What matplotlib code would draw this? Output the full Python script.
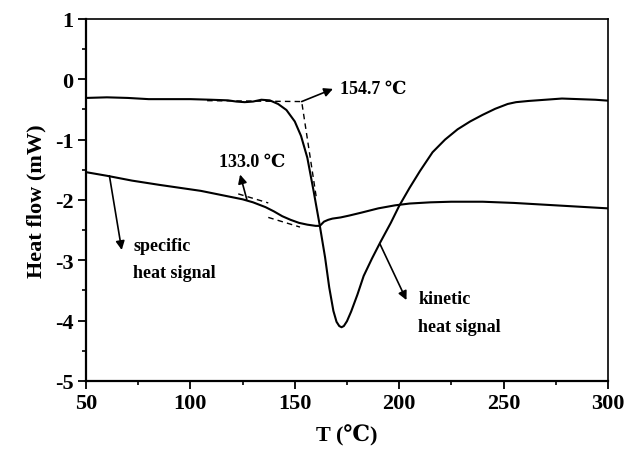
import matplotlib
matplotlib.use("Agg")
import matplotlib.pyplot as plt

plt.rcParams["font.family"] = ["Liberation Serif", "DejaVu Serif"]
plt.rcParams["font.weight"] = "bold"
plt.rcParams["axes.unicode_minus"] = False

# kinetic heat signal (upper curve)
t_kin = [50, 60, 70, 80, 90, 100, 110, 118, 122, 126, 130, 134, 138, 142, 146,
         150, 153, 156, 159, 162, 164.5, 166.5, 168.5, 170, 171.3, 172.4, 173.5,
         175, 177, 180, 183, 187, 191, 196, 200, 205, 210, 216, 222, 228, 234,
         240, 246, 252, 256, 262, 270, 278, 286, 294, 300]
hf_kin = [-0.31, -0.30, -0.31, -0.33, -0.33, -0.33, -0.34, -0.35, -0.37, -0.38,
          -0.37, -0.34, -0.35, -0.41, -0.51, -0.70, -0.94, -1.30, -1.85, -2.43,
          -2.95, -3.45, -3.84, -4.02, -4.09, -4.11, -4.09, -4.01, -3.85, -3.57,
          -3.26, -2.97, -2.70, -2.38, -2.10, -1.80, -1.52, -1.21, -1.00, -0.83,
          -0.70, -0.59, -0.49, -0.41, -0.38, -0.36, -0.34, -0.32, -0.33, -0.34,
          -0.355]

# specific heat signal (lower curve)
t_spec = [50, 60, 72, 85, 95, 105, 115, 125, 130, 136, 140, 144, 148, 152, 156,
          160, 162, 164, 166, 168, 172, 176, 182, 190, 198, 205, 215, 225, 240,
          255, 270, 285, 300]
hf_spec = [-1.54, -1.60, -1.68, -1.75, -1.80, -1.85, -1.92, -1.99, -2.04, -2.12,
           -2.19, -2.27, -2.33, -2.38, -2.41, -2.43, -2.43, -2.36, -2.33, -2.31,
           -2.29, -2.26, -2.21, -2.14, -2.09, -2.06, -2.04, -2.03, -2.03, -2.05,
           -2.08, -2.11, -2.14]

# onset tangent construction lines
onset_kin_t = [108, 153.3, 160.4]
onset_kin_v = [-0.355, -0.37, -1.98]
onset_spec1_t = [122.9, 137.3]
onset_spec1_v = [-1.90, -2.05]
onset_spec2_t = [137.3, 152.5]
onset_spec2_v = [-2.29, -2.45]

fig = plt.figure(figsize=(6.28, 4.52), dpi=100)
ax = fig.add_axes([0.137, 0.155, 0.831, 0.801])

ax.plot(t_kin, hf_kin, color="black", lw=1.5)
ax.plot(t_spec, hf_spec, color="black", lw=1.5)
ax.plot(onset_kin_t, onset_kin_v, color="black", lw=1.0, ls=(0, (4, 3)))
ax.plot(onset_spec1_t, onset_spec1_v, color="black", lw=1.0, ls=(0, (4, 3)))
ax.plot(onset_spec2_t, onset_spec2_v, color="black", lw=1.0, ls=(0, (4, 3)))

arrow = dict(arrowstyle="-|>", color="black", lw=1.2, mutation_scale=13,
             shrinkA=0, shrinkB=0)
ax.annotate("", xy=(168.3, -0.16), xytext=(153.3, -0.37), arrowprops=arrow)
ax.annotate("", xy=(123.8, -1.58), xytext=(127, -1.99), arrowprops=arrow)
ax.annotate("", xy=(67.1, -2.83), xytext=(61.2, -1.60), arrowprops=arrow)
ax.annotate("", xy=(203.5, -3.66), xytext=(190.8, -2.73), arrowprops=arrow)

ax.text(171.5, -0.16, "154.7 \u2103", fontsize=13, va="center", ha="left")
ax.text(129.5, -1.36, "133.0 \u2103", fontsize=13, va="center", ha="center")
ax.text(72.5, -2.76, "specific", fontsize=13, va="center", ha="left")
ax.text(72.5, -3.20, "heat signal", fontsize=13, va="center", ha="left")
ax.text(209.2, -3.64, "kinetic", fontsize=13, va="center", ha="left")
ax.text(209.2, -4.09, "heat signal", fontsize=13, va="center", ha="left")

ax.set_xlim(50, 300)
ax.set_ylim(-5, 1)
ax.set_xticks([50, 100, 150, 200, 250, 300])
ax.set_xticks([75, 125, 175, 225, 275], minor=True)
ax.set_yticks([1, 0, -1, -2, -3, -4, -5])
ax.set_yticks([0.5, -0.5, -1.5, -2.5, -3.5, -4.5], minor=True)
ax.tick_params(which="major", length=6, width=1.3, labelsize=16, pad=3)
ax.tick_params(which="minor", length=3, width=1.2)
ax.tick_params(top=False, right=False)
for lbl in ax.get_xticklabels() + ax.get_yticklabels():
    lbl.set_fontweight("bold")

for side in ["left", "bottom"]:
    ax.spines[side].set_linewidth(1.6)
for side in ["top", "right"]:
    ax.spines[side].set_linewidth(1.2)

ax.set_xlabel("T (\u2103)", fontsize=16, fontweight="bold", labelpad=8)
ax.set_ylabel("Heat flow (mW)", fontsize=16, fontweight="bold", labelpad=6)

fig.savefig("out.png", dpi=100)
